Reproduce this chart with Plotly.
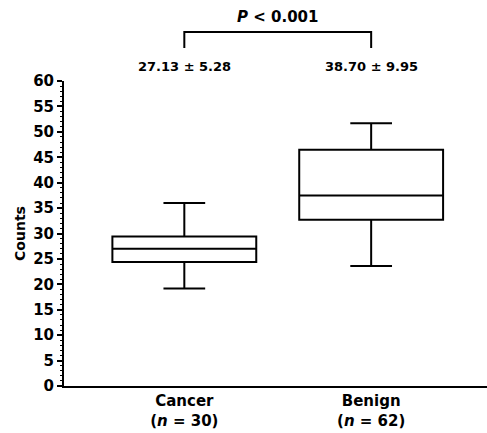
import plotly.graph_objects as go

categories = ["Cancer", "Benign"]
n_values = [30, 62]
lower_whisker = [19.2, 23.6]
q1_values = [24.4, 32.7]
median_values = [27.0, 37.5]
q3_values = [29.4, 46.5]
upper_whisker = [36.0, 51.7]
mean_sd_labels = ["27.13 ± 5.28", "38.70 ± 9.95"]
p_label = "<i>P</i> < 0.001"
y_ticks = list(range(0, 61, 5))

FONT = "DejaVu Sans"
xpos = list(range(len(categories)))

fig = go.Figure()
fig.add_trace(go.Box(
    x=xpos,
    q1=q1_values, median=median_values, q3=q3_values,
    lowerfence=lower_whisker, upperfence=upper_whisker,
    width=0.77, whiskerwidth=0.29,
    fillcolor="white",
    line=dict(color="black", width=2),
    boxpoints=False,
    showlegend=False,
    hoverinfo="skip",
))

ticktext = [f"<b>{c}<br>(<i>n</i> = {n})</b>" for c, n in zip(categories, n_values)]

fig.update_layout(
    width=487, height=433,
    margin=dict(l=64, r=0, t=81, b=47),
    paper_bgcolor="white", plot_bgcolor="white",
    font=dict(family=FONT, color="black", size=15),
    xaxis=dict(
        range=[-0.644, 1.62],
        tickvals=xpos, ticktext=ticktext,
        showline=True, linecolor="black", linewidth=2,
        ticks="", showgrid=False, zeroline=False,
        tickfont=dict(family=FONT, size=15, color="black"),
        automargin=False,
    ),
    yaxis=dict(
        range=[0, 60],
        tickvals=y_ticks,
        ticktext=[f"<b>{v}</b>" for v in y_ticks],
        showline=True, linecolor="black", linewidth=2,
        ticks="outside", ticklen=5, tickwidth=1.5, tickcolor="black",
        minor=dict(dtick=1, ticks="outside", ticklen=2, tickwidth=1, tickcolor="black"),
        showgrid=False, zeroline=False,
        tickfont=dict(family=FONT, size=15, color="black"),
        title=dict(text="<b>Counts</b>", font=dict(family=FONT, size=14), standoff=4),
        automargin=False,
    ),
)

# significance bracket
y_top = 1.161
y_bot = 1.108
fig.add_shape(type="path",
              path=f"M 0 {y_bot} L 0 {y_top} L 1 {y_top} L 1 {y_bot}",
              xref="x", yref="paper",
              line=dict(color="black", width=2))
fig.add_annotation(x=0.5, y=1.21, xref="x", yref="paper", yanchor="middle",
                   text=f"<b>{p_label}</b>", showarrow=False,
                   font=dict(family=FONT, size=15, color="black"))
for xi, lab in zip(xpos, mean_sd_labels):
    fig.add_annotation(x=xi, y=1.049, xref="x", yref="paper", yanchor="middle",
                       text=f"<b>{lab}</b>", showarrow=False,
                       font=dict(family=FONT, size=13, color="black"))

fig.write_html("out.html", config={"displayModeBar": False},
               post_script="document.body.style.margin='0';document.body.style.overflow='hidden';")
